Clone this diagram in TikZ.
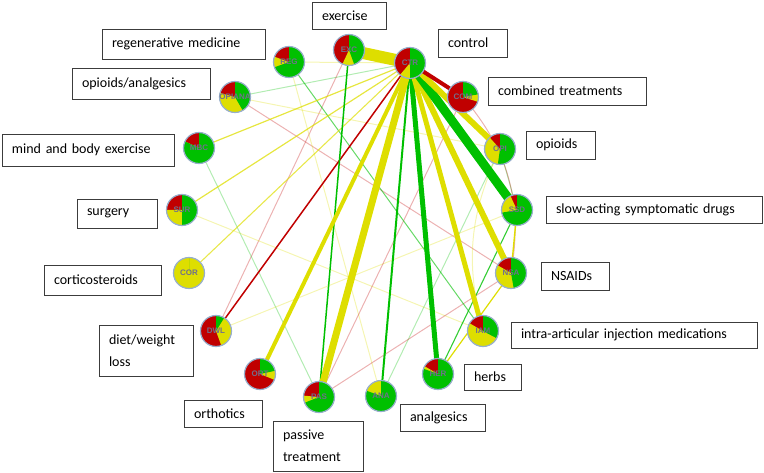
\documentclass[tikz,border=0pt]{standalone}
\usepackage{fontspec}
\setmainfont{Carlito}
\newfontfamily\abbrfont{Liberation Sans}
\pgfdeclarelayer{edges}
\pgfdeclarelayer{pies}
\pgfsetlayers{edges,pies,main}
\definecolor{cg}{RGB}{0,192,0}
\definecolor{cy}{RGB}{222,222,0}
\definecolor{cr}{RGB}{192,0,0}
\definecolor{rim}{RGB}{150,175,205}
\definecolor{abbr}{RGB}{112,112,140}
\definecolor{boxline}{RGB}{60,60,60}
\newcommand{\mypie}[3]{%
  \fill[cr] (#1.center) circle[radius=15.5pt];
  \fill[cy] (#1.center) -- ++(90:15.5pt) arc[start angle=90,delta angle={-#3},radius=15.5pt] -- cycle;
  \fill[cg] (#1.center) -- ++(90:15.5pt) arc[start angle=90,delta angle={-#2},radius=15.5pt] -- cycle;
  \draw[rim,line width=1.2pt] (#1.center) circle[radius=15.5pt];
}
\tikzset{
  tnode/.style={circle,minimum size=31pt,inner sep=0pt,font=\abbrfont\bfseries\fontsize{8}{9}\selectfont,text=abbr},
  lbl/.style={draw=boxline,line width=0.9pt,inner xsep=10pt,inner ysep=0pt,font=\fontsize{14}{22}\selectfont,align=left,anchor=center},
  ey/.style={draw=cy,line cap=butt},
  eg/.style={draw=cg},
  er/.style={draw=cr},
  faint/.style={opacity=0.3,line width=1pt},
  light/.style={opacity=0.6,line width=1pt}
}
\begin{document}
\begin{tikzpicture}[x=1pt,y=-1pt]
\useasboundingbox (0,0) rectangle (764,473);
% treatment nodes
\node[tnode] (EXC) at (349,50) {EXC};
\node[tnode] (CTR) at (410,63) {CTR};
\node[tnode] (REG) at (289,62) {REG};
\node[tnode] (OPIANA) at (235,97) {OPIANA};
\node[tnode] (MBC) at (199,148) {MBC};
\node[tnode] (SUR) at (182,210) {SUR};
\node[tnode] (COR) at (189,273) {COR};
\node[tnode] (DWL) at (216,331) {DWL};
\node[tnode] (ORT) at (260,374) {ORT};
\node[tnode] (PAS) at (319,397) {PAS};
\node[tnode] (ANA) at (381,396) {ANA};
\node[tnode] (HER) at (438,374) {HER};
\node[tnode] (IAM) at (483,331) {IAM};
\node[tnode] (NSA) at (511,273) {NSA};
\node[tnode] (SSD) at (517,210) {SSD};
\node[tnode] (OPI) at (500,149) {OPI};
\node[tnode] (COM) at (463,97) {COM};

\begin{pgfonlayer}{edges}
% faint edges
\draw[eg,faint] (CTR.center) -- (OPIANA.center);
\draw[ey,faint] (CTR.center) -- (REG.center);
\draw[er,faint] (EXC.center) -- (DWL.center);
\draw[er,faint] (OPIANA.center) -- (NSA.center);
\draw[ey,faint] (OPIANA.center) -- (OPI.center);
\draw[eg,faint] (MBC.center) -- (PAS.center);
\draw[ey,faint] (SUR.center) -- (IAM.center);
\draw[ey,faint] (DWL.center) -- (SSD.center);
\draw[ey,faint] (ANA.center) -- (REG.center);
\draw[eg,faint] (ANA.center) -- (OPI.center);
\draw[er,faint] (PAS.center) -- (COM.center);
\draw[er,faint] (PAS.center) -- (NSA.center);
\draw[eg,faint] (OPI.center) -- (SSD.center);
\draw[er,faint] (COM.center) to[bend left=25] (NSA.center);
\draw[ey,faint] (OPI.center) to[bend right=20] (IAM.center);
% light edges
\draw[eg,light] (REG.center) -- (IAM.center);
\draw[ey,line width=1.2pt,opacity=0.75] (CTR.center) -- (SUR.center);
\draw[ey,line width=1.2pt,opacity=0.75] (CTR.center) -- (MBC.center);
\draw[ey,line width=1.1pt,opacity=0.7] (CTR.center) -- (COR.center);
\draw[ey,line width=1.4pt] (SSD.center) -- (NSA.center);
\draw[ey,line width=1.2pt] (HER.center) -- (NSA.center);
\draw[eg,line width=1.1pt,opacity=0.8] (HER.center) -- (SSD.center);
% strong edges
\draw[er,line width=1.5pt] (CTR.center) -- (DWL.center);
\draw[eg,line width=1.5pt] (EXC.center) -- (PAS.center);
\draw[eg,line width=2pt] (CTR.center) -- (ANA.center);
\draw[ey,line width=4pt] (CTR.center) -- (ORT.center);
\draw[ey,line width=7pt] (CTR.center) -- (PAS.center);
\draw[eg,line width=5pt] (CTR.center) -- (HER.center);
\draw[ey,line width=5pt] (CTR.center) -- (IAM.center);
\draw[ey,line width=6pt] (CTR.center) -- (NSA.center);
\draw[eg,line width=9pt] (CTR.center) -- (SSD.center);
\draw[ey,line width=6pt] (CTR.center) -- (OPI.center);
\draw[er,line width=4pt] (CTR.center) -- (COM.center);
\draw[ey,line width=12pt] (CTR.center) -- (EXC.center);
\end{pgfonlayer}

\begin{pgfonlayer}{pies}
\mypie{CTR}{180}{220}
\mypie{EXC}{160}{205}
\mypie{REG}{250}{290}
\mypie{OPIANA}{150}{285}
\mypie{MBC}{295}{295}
\mypie{SUR}{180}{270}
\mypie{COR}{0}{360}
\mypie{DWL}{32}{160}
\mypie{ORT}{78}{112}
\mypie{PAS}{248}{275}
\mypie{ANA}{290}{360}
\mypie{HER}{290}{300}
\mypie{IAM}{118}{300}
\mypie{NSA}{170}{300}
\mypie{SSD}{260}{335}
\mypie{OPI}{188}{318}
\mypie{COM}{80}{108}
\end{pgfonlayer}

% label boxes
\node[lbl,minimum width=74pt,minimum height=27pt,text width=54pt] (lEXC) at (349,15.5) {exercise};
\node[lbl,minimum width=163pt,minimum height=30pt,text width=143pt] (lREG) at (183.5,44) {regenerative medicine};
\node[lbl,minimum width=69pt,minimum height=28pt,text width=49pt] (lCTR) at (472.5,43) {control};
\node[lbl,minimum width=138pt,minimum height=31pt,text width=118pt] (lOPIANA) at (141,83.5) {opioids/analgesics};
\node[lbl,minimum width=158pt,minimum height=28pt,text width=138pt] (lCOM) at (567,91) {combined treatments};
\node[lbl,minimum width=172pt,minimum height=32pt,text width=152pt] (lMBC) at (88,150) {mind and body exercise};
\node[lbl,minimum width=69pt,minimum height=28pt,text width=49pt] (lOPI) at (560.5,145) {opioids};
\node[lbl,minimum width=216pt,minimum height=27pt,text width=196pt] (lSSD) at (654,209.5) {slow-acting symptomatic drugs};
\node[lbl,minimum width=80pt,minimum height=29pt,text width=60pt] (lSUR) at (117,213.5) {surgery};
\node[lbl,minimum width=68pt,minimum height=28pt,text width=48pt] (lNSA) at (575,276) {NSAIDs};
\node[lbl,minimum width=117pt,minimum height=30pt,text width=97pt] (lCOR) at (102.5,280) {corticosteroids};
\node[lbl,minimum width=246pt,minimum height=26pt,text width=226pt] (lIAM) at (634,335) {intra-articular injection medications};
\node[lbl,minimum width=94pt,minimum height=51pt,text width=74pt] (lDWL) at (146,350.5) {diet/weight\\loss};
\node[lbl,minimum width=57pt,minimum height=26pt,text width=37pt] (lHER) at (492.5,377) {herbs};
\node[lbl,minimum width=78pt,minimum height=27pt,text width=58pt] (lORT) at (223,413.5) {orthotics};
\node[lbl,minimum width=85pt,minimum height=27pt,text width=65pt] (lANA) at (442.5,417.5) {analgesics};
\node[lbl,minimum width=90pt,minimum height=50pt,text width=70pt] (lPAS) at (318,446) {passive\\treatment};
\end{tikzpicture}
\end{document}
